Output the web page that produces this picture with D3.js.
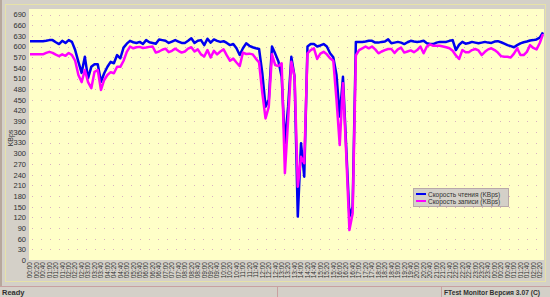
<html>
<head>
<meta charset="utf-8" />
<script src="https://d3js.org/d3.v7.min.js"></script>
<style>
  body { margin: 0; background: #d4d0c8; }
  text { font-family: "Liberation Sans", Arial, sans-serif; fill: #303030; }
</style>
</head>
<body>
<svg id="chart" width="550" height="297"></svg>
<script>
// read speed, KBps, one sample every 10 minutes
let readSpeed = [615,615,615,615,615,616,618,618,612,607,616,610,618,613,590,557,526,571,511,543,
  550,550,501,525,543,557,553,576,567,597,608,616,612,610,613,607,618,612,610,608,
  620,618,616,610,614,618,614,610,610,616,623,610,616,618,604,622,611,620,616,613,
  615,610,604,607,595,576,595,609,602,598,595,593,525,431,450,600,580,558,515,328,
  431,571,515,122,328,234,600,607,607,600,603,607,600,581,570,520,403,515,318,122,
  150,613,613,613,614,616,616,611,611,613,614,620,609,611,613,611,607,612,616,614,
  613,614,616,609,607,607,611,613,613,613,616,618,590,605,613,608,610,613,611,609,
  611,613,611,610,614,615,612,608,604,601,598,604,609,612,614,617,618,620,625,640]
// write speed, KBps
let writeSpeed = [578,578,578,578,578,582,585,582,577,573,578,574,582,576,560,520,500,534,500,483,
  529,534,478,506,520,528,525,543,543,560,585,600,595,598,599,596,597,599,600,583,
  586,591,594,584,588,594,588,583,586,594,598,586,592,578,572,590,569,588,578,586,
  592,575,560,566,555,545,583,579,580,578,566,555,470,398,430,578,548,545,553,244,
  394,557,515,206,290,272,581,590,595,565,580,585,578,567,560,450,323,497,300,84,
  131,575,590,595,600,595,600,592,581,586,590,593,593,582,592,597,583,586,589,584,
  590,600,581,600,606,602,602,602,600,598,595,588,575,565,590,584,584,590,593,589,
  576,585,592,595,590,583,573,571,571,569,580,595,576,576,585,604,596,592,610,635]
// one label every second sample
let timeLabels = ["00:00","00:20","00:40","01:00","01:20","01:40","02:00","02:20","02:40","03:00",
  "03:20","03:40","04:00","04:20","04:40","05:00","05:20","05:40","06:00","06:20",
  "06:40","07:00","07:20","07:40","08:00","08:20","08:40","09:00","09:20","09:40",
  "10:00","10:20","10:40","11:00","11:20","11:40","12:00","12:20","12:40","13:00",
  "13:20","13:40","14:00","14:20","14:40","15:00","15:20","15:40","16:00","16:20",
  "16:40","17:00","17:20","17:40","18:00","18:20","18:40","19:00","19:20","19:40",
  "20:00","20:20","20:40","21:00","21:20","21:40","22:00","22:20","22:40","23:00",
  "23:20","23:40","00:00","00:20","00:40","01:00","01:20","01:40","02:00","02:20"]
let yTicks = [0,30,60,90,120,150,180,210,240,270,300,330,360,390,420,450,480,510,540,570,600,630,660,690]
let seriesNames = ["Скорость чтения (KBps)", "Скорость записи (KBps)"]
let seriesColors = ["#0000f0", "#ff00ff"]

let svg = d3.select("#chart")

// window frame
svg.append("line").attr("x1",1).attr("x2",1).attr("y1",0).attr("y2",286).attr("stroke","#9a8070")
svg.append("rect").attr("x",5.5).attr("y",4.5).attr("width",540).attr("height",277)
  .attr("fill","none").attr("stroke","#e6e2a8")

// plot background
svg.append("rect").attr("x",29).attr("y",9).attr("width",515).attr("height",251).attr("fill","#ffffc8")

let x = d3.scaleLinear().domain([0, readSpeed.length - 1]).range([30, 543])
let y = d3.scaleLinear().domain([0, 690]).range([260, 14.5])

// dotted grid
svg.append("g").selectAll("line").data(yTicks.slice(1)).enter().append("line")
  .attr("x1",32).attr("x2",542)
  .attr("y1",d => Math.round(y(d)) + 0.5).attr("y2",d => Math.round(y(d)) + 0.5)
  .attr("stroke","#d8b0c0").attr("stroke-dasharray","1,8")

// y axis
let yAxis = svg.append("g").attr("transform","translate(27,0)")
  .call(d3.axisLeft(y).tickValues(yTicks).tickSize(0).tickPadding(1))
yAxis.select(".domain").remove()
yAxis.selectAll("text").style("font-size","7.5px").attr("fill","#303030")
  .attr("font-family","Liberation Sans, Arial, sans-serif")

svg.append("text").attr("transform","translate(13,138) rotate(-90)")
  .attr("text-anchor","middle").style("font-size","7px").text("KBps")

// x axis labels, vertical
svg.append("g").selectAll("text").data(timeLabels).enter().append("text")
  .attr("transform",(d,i) => "translate(" + (x(i*2) + 2.3) + ",262) rotate(-90)")
  .attr("text-anchor","end").style("font-size","6.5px").text(d => d)

// lines
let line = d3.line().x((d,i) => x(i)).y(d => y(d))
svg.append("path").datum(readSpeed).attr("d",line)
  .attr("fill","none").attr("stroke",seriesColors[0]).attr("stroke-width",2.5).attr("stroke-linejoin","round")
svg.append("path").datum(writeSpeed).attr("d",line)
  .attr("fill","none").attr("stroke",seriesColors[1]).attr("stroke-width",2.5).attr("stroke-linejoin","round")

// legend
let legend = svg.append("g").attr("transform","translate(413,188)")
legend.append("rect").attr("x",0.5).attr("y",0.5).attr("width",95).attr("height",18)
  .attr("fill","#d4d0c8").attr("stroke","#b8a8a8")
seriesNames.forEach((name,i) => {
  legend.append("line").attr("x1",3).attr("x2",13).attr("y1",6 + i*7).attr("y2",6 + i*7)
    .attr("stroke",seriesColors[i]).attr("stroke-width",2)
  legend.append("text").attr("x",15).attr("y",8.5 + i*7).style("font-size","6.5px").text(name)
})

// status bar
svg.append("line").attr("x1",0).attr("x2",550).attr("y1",286.5).attr("y2",286.5).attr("stroke","#c8a0a0")
svg.append("line").attr("x1",277.5).attr("x2",277.5).attr("y1",287).attr("y2",297).attr("stroke","#c8a0a0")
svg.append("line").attr("x1",441.5).attr("x2",441.5).attr("y1",287).attr("y2",297).attr("stroke","#c8a0a0")
svg.append("text").attr("x",2).attr("y",295).style("font-size","7.5px").style("font-weight","bold")
  .attr("fill","#202020").text("Ready")
svg.append("text").attr("x",444).attr("y",295).style("font-size","7px").style("font-weight","bold")
  .attr("textLength",96).attr("lengthAdjust","spacingAndGlyphs")
  .attr("fill","#202020").text("FTest Monitor Версия 3.07 (C)")
</script>
</body>
</html>
